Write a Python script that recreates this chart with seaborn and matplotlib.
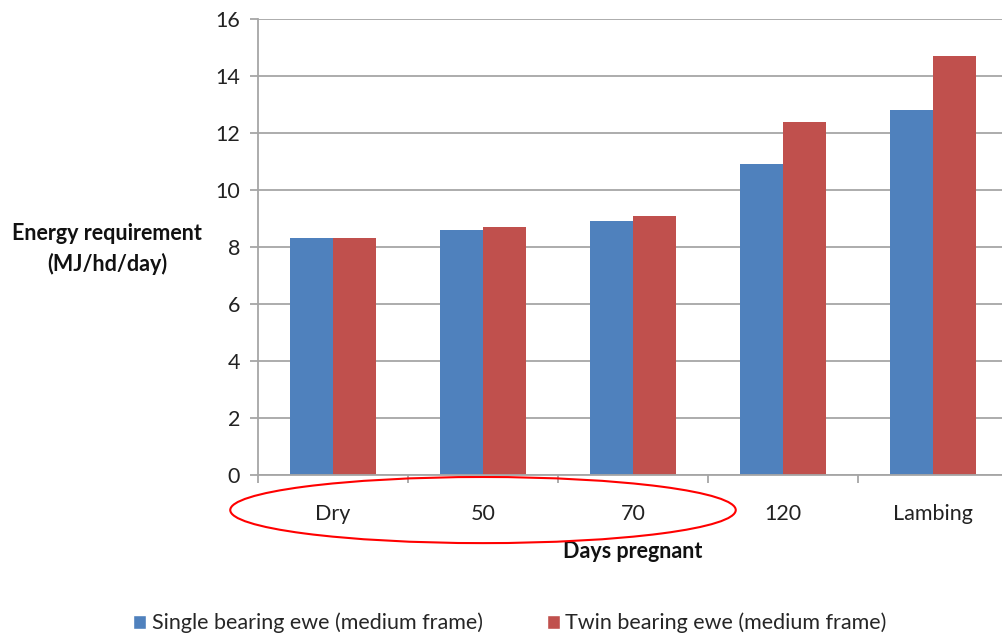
import matplotlib
matplotlib.use("Agg")
import matplotlib.pyplot as plt
from matplotlib.patches import Ellipse, Patch
import pandas as pd
import seaborn as sns

# values
stages = ["Dry", "50", "70", "120", "Lambing"]
single_ewe = [8.3, 8.6, 8.9, 10.9, 12.8]
twin_ewe = [8.3, 8.7, 9.1, 12.4, 14.7]
series_names = ["Single bearing ewe (medium frame)", "Twin bearing ewe (medium frame)"]
colors = ["#4F81BD", "#C0504D"]

df = pd.DataFrame({
    "stage": stages * 2,
    "energy": single_ewe + twin_ewe,
    "series": [series_names[0]] * len(stages) + [series_names[1]] * len(stages),
})

sns.set_theme(style="white")
plt.rcParams["font.family"] = ["Lato", "DejaVu Sans"]

fig = plt.figure(figsize=(10.03, 6.4), dpi=100)
ax = fig.add_axes([258 / 1003, 1 - 475 / 640, 750 / 1003, 456 / 640])

sns.barplot(data=df, x="stage", y="energy", hue="series", order=stages,
            hue_order=series_names, palette=colors, width=0.567, gap=0,
            saturation=1, legend=False, edgecolor="none", linewidth=0, ax=ax)

grid_c = "#A6A6A6"
ax.set_ylim(0, 16)
ax.set_xlim(-0.5, 4.5)
ax.set_yticks(range(0, 17, 2))
ax.yaxis.grid(True, color=grid_c, lw=1.3)
ax.set_axisbelow(True)
for s in ["top", "right"]:
    ax.spines[s].set_visible(False)
for s in ["left", "bottom"]:
    ax.spines[s].set_color(grid_c)
    ax.spines[s].set_linewidth(1.3)

ax.set_xticks([i - 0.5 for i in range(len(stages) + 1)], minor=True)
ax.tick_params(axis="x", which="major", length=0, pad=21, labelsize=15.5, colors="#222222")
ax.tick_params(axis="x", which="minor", length=6, width=1.3, color=grid_c, direction="out", bottom=True)
ax.tick_params(axis="y", length=6, width=1.3, color=grid_c, direction="out", left=True,
               labelsize=15.5, labelcolor="#222222", pad=7)

ax.set_ylabel("")
ax.set_xlabel("Days pregnant", fontsize=15.5, fontweight="bold", color="#111111")
ax.xaxis.label.set_va("center")
ax.xaxis.set_label_coords(0.5, (475 - 551) / 456)

fig.text(107 / 1003, 1 - 249 / 640, "Energy requirement\n(MJ/hd/day)", ha="center", va="center",
         fontsize=15.5, fontweight="bold", color="#111111", linespacing=1.45)

# red highlight ellipse round the first three categories
ell = Ellipse((1.0, -1.23), width=3.37, height=2.32, transform=ax.transData,
              fill=False, edgecolor="red", lw=1.5, clip_on=False)
ax.add_patch(ell)

handles = [Patch(facecolor=c, label=n) for c, n in zip(colors, series_names)]
fig.legend(handles=handles, loc="center", bbox_to_anchor=(510 / 1003, 1 - 623 / 640), ncol=2,
           frameon=False, fontsize=15.5, handlelength=0.6, handleheight=0.6, handletextpad=0.25,
           columnspacing=3.0)

fig.savefig("out.png", dpi=100)
